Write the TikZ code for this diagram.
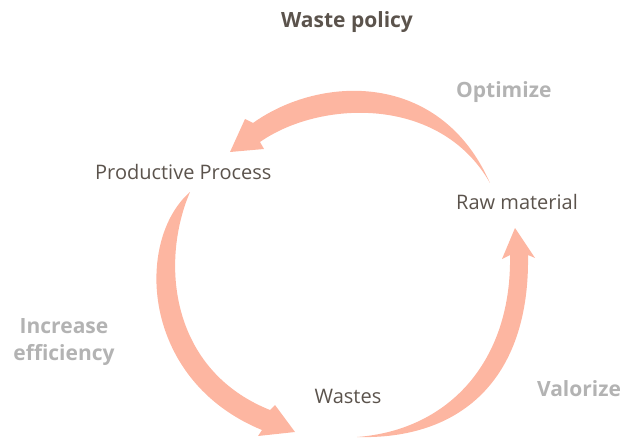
\documentclass[tikz,border=0pt]{standalone}
\usepackage{fontspec}
\setmainfont{Open Sans}
\definecolor{arrowfill}{HTML}{FDB6A1}
\definecolor{darktext}{HTML}{5B534C}
\definecolor{lighttext}{HTML}{B3B3B3}

\begin{document}
\begin{tikzpicture}[x=1pt,y=-1pt,
  stage/.style={text=darktext,font=\fontsize{20}{24}\selectfont,inner sep=0pt},
  action/.style={text=lighttext,font=\fontsize{21}{27}\selectfont\bfseries,inner sep=0pt,align=center},
  loopshape/.style={fill=arrowfill,draw=none}]
  \path[use as bounding box] (0,0) rectangle (624,441);
  % title
  \node[text=darktext,font=\fontsize{21}{24}\selectfont\bfseries,inner sep=0pt,anchor=base] (title) at (347,28) {Waste policy};
  % stages
  \node[stage,anchor=base west] (process) at (95,179) {Productive Process};
  \node[stage,anchor=base west] (raw) at (456,209) {Raw material};
  \node[stage,anchor=base] (wastes) at (348,403) {Wastes};
  % actions
  \node[action,anchor=base west] (optimize) at (456,98) {Optimize};
  \node[action,anchor=north] (efficiency) at (64,318) {Increase\\efficiency};
  \node[action,anchor=base] (valorize) at (579,396) {Valorize};
  % arrows
  \fill[loopshape] (490,183) .. controls (440,70) and (320,75) .. (253,123)
    -- (245,119) -- (230,152) -- (264,149) -- (260,142)
    .. controls (320,100) and (440,95) .. (490,183) -- cycle;
  \fill[loopshape] (190,192) .. controls (135,240) and (140,380) .. (262,430)
    -- (258,436) -- (295,432) -- (275,405) -- (270,410)
    .. controls (170,370) and (160,262) .. (190,192) -- cycle;
  \fill[loopshape] (357,437) .. controls (460,440) and (530,380) .. (528,255)
    -- (535,258) -- (515,228) -- (502,259) -- (510,255)
    .. controls (512,360) and (450,430) .. (357,437) -- cycle;
\end{tikzpicture}
\end{document}
